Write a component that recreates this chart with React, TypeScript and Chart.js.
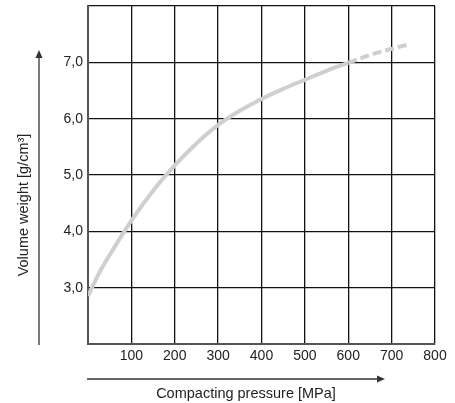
import React, { useEffect, useRef } from "react";
import { Chart, registerables } from "chart.js";

Chart.register(...registerables);

const pressureSolid = [0, 25, 50, 100, 150, 200, 250, 300, 350, 400, 450, 500, 550, 600];
const weightSolid = [2.85, 3.25, 3.58, 4.19, 4.72, 5.17, 5.56, 5.89, 6.14, 6.35, 6.53, 6.69, 6.85, 6.99];
const pressureDashed = [600, 650, 700, 740];
const weightDashed = [6.99, 7.13, 7.24, 7.32];
const xTickValues = [100, 200, 300, 400, 500, 600, 700, 800];
const yTickValues = [3, 4, 5, 6, 7];
const xTitle = "Compacting pressure [MPa]";
const yTitle = "Volume weight [g/cm\u00B3]";

const FONT = "'Liberation Sans', Arial, sans-serif";
const CURVE = "#cfcfcf";

const decorPlugin = {
  id: "decor",
  afterDraw(chart: any) {
    const { ctx, chartArea } = chart;
    const { left, top, bottom } = chartArea;
    ctx.save();
    ctx.strokeStyle = "#333";
    ctx.fillStyle = "#333";
    ctx.lineWidth = 1.3;
    // vertical arrow
    const ax = 39;
    const ayTip = top + 44;
    ctx.beginPath();
    ctx.moveTo(ax, bottom + 1);
    ctx.lineTo(ax, ayTip + 6);
    ctx.stroke();
    ctx.beginPath();
    ctx.moveTo(ax, ayTip);
    ctx.lineTo(ax - 3.5, ayTip + 8);
    ctx.lineTo(ax + 3.5, ayTip + 8);
    ctx.closePath();
    ctx.fill();
    // horizontal arrow
    const hy = bottom + 35;
    const hxTip = left + 297;
    ctx.beginPath();
    ctx.moveTo(left - 1, hy);
    ctx.lineTo(hxTip - 6, hy);
    ctx.stroke();
    ctx.beginPath();
    ctx.moveTo(hxTip, hy);
    ctx.lineTo(hxTip - 8, hy - 3.5);
    ctx.lineTo(hxTip - 8, hy + 3.5);
    ctx.closePath();
    ctx.fill();
    // titles
    ctx.fillStyle = "#222";
    ctx.font = `14.5px ${FONT}`;
    ctx.textAlign = "center";
    ctx.textBaseline = "middle";
    ctx.fillText(xTitle, 246, hy + 15);
    ctx.translate(24, 205);
    ctx.rotate(-Math.PI / 2);
    ctx.fillText(yTitle, 0, 0);
    ctx.restore();
  },
};

export default function App() {
  const ref = useRef<HTMLCanvasElement | null>(null);
  useEffect(() => {
    if (!ref.current) return;
    const chart = new Chart(ref.current, {
      type: "line",
      data: {
        datasets: [
          {
            data: pressureSolid.map((x, i) => ({ x, y: weightSolid[i] })),
            borderColor: CURVE,
            borderWidth: 4,
            pointRadius: 0,
            cubicInterpolationMode: "monotone",
            fill: false,
          },
          {
            data: pressureDashed.map((x, i) => ({ x, y: weightDashed[i] })),
            borderColor: CURVE,
            borderWidth: 4,
            borderDash: [9, 4],
            pointRadius: 0,
            cubicInterpolationMode: "monotone",
            fill: false,
          },
        ],
      },
      options: {
        animation: false,
        responsive: true,
        maintainAspectRatio: false,
        layout: { padding: { left: 48, right: 20, top: 6, bottom: 39 } },
        plugins: { legend: { display: false }, tooltip: { enabled: false } },
        scales: {
          x: {
            type: "linear",
            min: 0,
            max: 800,
            afterFit: (s: any) => {
              s.height = 20;
              s.paddingLeft = 0;
              s.paddingRight = 0;
            },
            afterBuildTicks: (s: any) => {
              s.ticks = [0, ...xTickValues].map((v) => ({ value: v }));
            },
            ticks: {
              padding: 4,
              color: "#222",
              font: { family: FONT, size: 14 },
              maxRotation: 0,
              autoSkip: false,
              callback: (v: any) => (xTickValues.includes(Number(v)) ? String(v) : ""),
            },
            grid: { color: "#111", lineWidth: 1.3, drawTicks: false },
            border: { color: "#555", width: 2 },
          },
          y: {
            type: "linear",
            min: 2,
            max: 8,
            afterFit: (s: any) => {
              s.width = 40;
              s.paddingTop = 0;
              s.paddingBottom = 0;
            },
            afterBuildTicks: (s: any) => {
              s.ticks = [2, ...yTickValues, 8].map((v) => ({ value: v }));
            },
            ticks: {
              padding: 5,
              color: "#222",
              font: { family: FONT, size: 14 },
              autoSkip: false,
              callback: (v: any) =>
                yTickValues.includes(Number(v)) ? Number(v).toFixed(1).replace(".", ",") : "",
            },
            grid: { color: "#111", lineWidth: 1.3, drawTicks: false },
            border: { color: "#555", width: 2 },
          },
        },
      },
      plugins: [decorPlugin],
    });
    return () => chart.destroy();
  }, []);
  return (
    <div style={{ position: "fixed", left: 0, top: 0, width: 455, height: 403, background: "#fff" }}>
      <canvas ref={ref} />
    </div>
  );
}
